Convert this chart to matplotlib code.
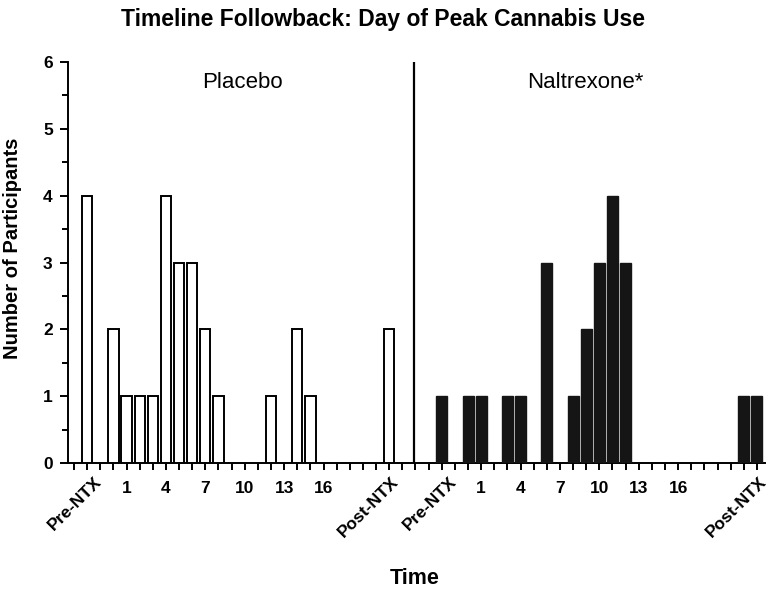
import matplotlib.pyplot as plt
from matplotlib.ticker import MultipleLocator

OUT_PNG = 'out.png'

# slot index on the shared time axis (one slot per tick)
placebo_slots = [1, 3, 4, 5, 6, 7, 8, 9, 10, 11, 15, 17, 18, 24]
placebo_counts = [4, 2, 1, 1, 1, 4, 3, 3, 2, 1, 1, 2, 1, 2]

naltrexone_slots = [28, 30, 31, 33, 34, 36, 38, 39, 40, 41, 42, 51, 52]
naltrexone_counts = [1, 1, 1, 1, 1, 3, 1, 2, 3, 4, 3, 1, 1]

label_slots = [1, 4, 7, 10, 13, 16, 19, 24, 28, 31, 34, 37, 40, 43, 46, 52]
label_texts = ['Pre-NTX', '1', '4', '7', '10', '13', '16', 'Post-NTX',
               'Pre-NTX', '1', '4', '7', '10', '13', '16', 'Post-NTX']
# horizontal nudge (in slots) for the slanted labels
slant_shift = {'Pre-NTX': 0.95, 'Post-NTX': 0.55}

SEPARATOR = 25.9
N_SLOTS = 53

plt.rcParams['font.family'] = ['Liberation Sans', 'DejaVu Sans']

fig = plt.figure(figsize=(7.7, 5.93), dpi=100)
ax = fig.add_axes([0.0883, 0.2192, 0.905, 0.6762])

ax.bar(placebo_slots, placebo_counts, width=0.78, facecolor='white',
       edgecolor='black', linewidth=1.4, zorder=3)
ax.bar(naltrexone_slots, naltrexone_counts, width=0.84, facecolor='#151515',
       edgecolor='#151515', linewidth=1.0, zorder=3)

ax.axvline(SEPARATOR, ymin=0, ymax=1, color='black', linewidth=1.6)

ax.set_xlim(-0.46, 52.6)
ax.set_ylim(0, 6)

for side in ['top', 'right']:
    ax.spines[side].set_visible(False)
for side in ['left', 'bottom']:
    ax.spines[side].set_linewidth(1.4)

ax.yaxis.set_major_locator(MultipleLocator(1))
ax.yaxis.set_minor_locator(MultipleLocator(0.5))
ax.tick_params(axis='y', which='major', direction='out', length=6, width=1.4,
               labelsize=12.5, pad=5)
ax.tick_params(axis='y', which='minor', direction='out', length=4, width=1.4)
for lab in ax.get_yticklabels():
    lab.set_fontweight('bold')

ax.set_xticks(range(N_SLOTS))
ax.set_xticklabels([''] * N_SLOTS)
ax.tick_params(axis='x', direction='out', length=5, width=1.4)

for slot, text in zip(label_slots, label_texts):
    if text in slant_shift:
        ax.text(slot + slant_shift[text], -0.24, text, rotation=45,
                rotation_mode='anchor', ha='right', va='center', fontsize=12.5,
                fontweight='bold', clip_on=False)
    else:
        ax.text(slot, -0.27, text, ha='center', va='top', fontsize=12.5,
                fontweight='bold', clip_on=False)

ax.text(12.8, 5.7, 'Placebo', ha='center', va='center', fontsize=16)
ax.text(38.9, 5.7, 'Naltrexone*', ha='center', va='center', fontsize=16)

ax.set_ylabel('Number of Participants', fontsize=14.5, fontweight='bold')
ax.yaxis.set_label_coords(-0.066, 0.536)
fig.text(0.539, 0.006, 'Time', ha='center', va='bottom', fontsize=15.5, fontweight='bold')
fig.text(0.497, 0.967, 'Timeline Followback: Day of Peak Cannabis Use', ha='center',
         va='center', fontsize=16.5, fontweight='bold')

fig.savefig(OUT_PNG, dpi=100)
